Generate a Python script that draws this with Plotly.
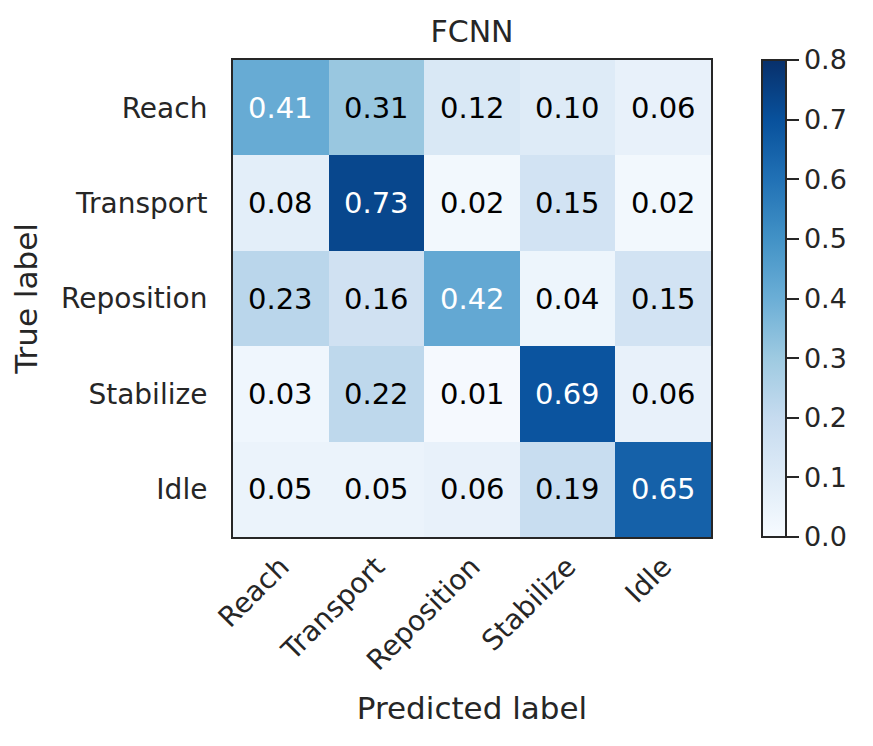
import plotly.graph_objects as go

classes = ["Reach", "Transport", "Reposition", "Stabilize", "Idle"]
true_labels = classes
pred_labels = classes
matrix = [
    [0.41, 0.31, 0.12, 0.10, 0.06],
    [0.08, 0.73, 0.02, 0.15, 0.02],
    [0.23, 0.16, 0.42, 0.04, 0.15],
    [0.03, 0.22, 0.01, 0.69, 0.06],
    [0.05, 0.05, 0.06, 0.19, 0.65],
]
cbar_ticks = [0.0, 0.1, 0.2, 0.3, 0.4, 0.5, 0.6, 0.7, 0.8]

blues = ["#f7fbff", "#deebf7", "#c6dbef", "#9ecae1", "#6baed6",
         "#4292c6", "#2171b5", "#08519c", "#08306b"]
colorscale = [[i / (len(blues) - 1), c] for i, c in enumerate(blues)]

INK = "#262626"
FONT = "DejaVu Sans"
PAGE = 8  # default body margin of the page
W, H = 873 - PAGE, 746 - PAGE
L, R, T, B = 233 - PAGE, 162, 60 - PAGE, 209
plot_w = W - L - R

fig = go.Figure()
fig.add_trace(go.Heatmap(
    z=matrix, x=pred_labels, y=true_labels,
    zmin=0, zmax=0.8, colorscale=colorscale,
    hoverongaps=False,
    colorbar=dict(
        x=(762 - 233) / plot_w, xanchor="left", xpad=0, ypad=0,
        y=0.5, yanchor="middle", len=1.0, lenmode="fraction",
        thickness=24, thicknessmode="pixels",
        outlinewidth=2, outlinecolor=INK,
        tickmode="array", tickvals=cbar_ticks,
        ticktext=[f"{v:.1f}" for v in cbar_ticks],
        ticks="outside", ticklen=12, tickwidth=2, tickcolor=INK,
        tickfont=dict(family=FONT, size=27, color=INK),
    ),
))

thresh = max(max(r) for r in matrix) / 2
for i, t in enumerate(true_labels):
    for j, p in enumerate(pred_labels):
        v = matrix[i][j]
        fig.add_annotation(
            x=p, y=t, text=f"{v:.2f}", showarrow=False,
            font=dict(family=FONT, size=29,
                      color="white" if v > thresh else "black"),
        )

fig.update_layout(
    width=W, height=H,
    margin=dict(l=L, r=R, t=T, b=B),
    paper_bgcolor="white", plot_bgcolor="white",
    font=dict(family=FONT, color=INK),
    title=dict(text="FCNN", x=(L + plot_w / 2) / W, xanchor="center",
               y=1 - (31.5 - PAGE) / H, yanchor="middle", yref="container",
               font=dict(family=FONT, size=30, color=INK)),
)
fig.update_xaxes(
    title=dict(text="Predicted label", font=dict(family=FONT, size=31, color=INK),
               standoff=21),
    tickangle=-45, tickfont=dict(family=FONT, size=28, color=INK),
    ticks="", showgrid=False, zeroline=False,
    showline=True, linewidth=2, linecolor=INK, mirror=True,
    automargin=False, constrain="domain",
)
fig.update_yaxes(
    title=dict(text="True label", font=dict(family=FONT, size=31, color=INK),
               standoff=14),
    autorange="reversed",
    tickfont=dict(family=FONT, size=28, color=INK),
    ticks="", ticklabelstandoff=18, showgrid=False, zeroline=False,
    showline=True, linewidth=2, linecolor=INK, mirror=True,
    automargin=False,
)

fig.write_html("out.html")
